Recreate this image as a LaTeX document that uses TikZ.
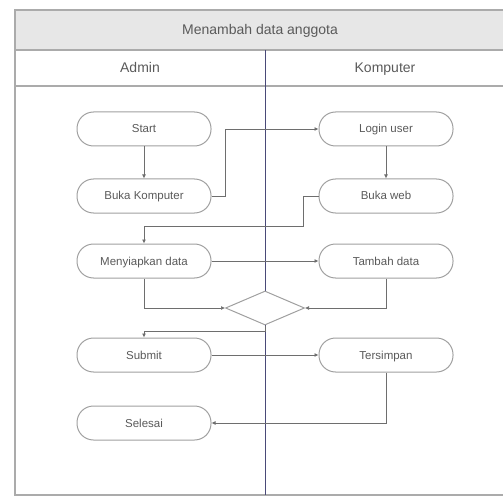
\documentclass[tikz,border=0pt]{standalone}
\usepackage{fontspec}
\setmainfont{Liberation Sans}
\usetikzlibrary{shapes.geometric,arrows.meta}
\definecolor{framegray}{HTML}{ABABAB}
\definecolor{titlefill}{HTML}{E7E7E7}
\definecolor{lanecol}{HTML}{4A4A78}
\definecolor{linecol}{HTML}{6E6E6E}
\definecolor{boxcol}{HTML}{A0A0A0}
\definecolor{txtcol}{HTML}{5A5A5A}
\tikzset{
  act/.style={draw=boxcol, line width=1pt, rounded corners=16.5pt, fill=white,
    minimum width=134pt, minimum height=34pt, inner sep=0pt,
    text height=10pt, text depth=2pt,
    font=\fontsize{11.5}{13}\selectfont, text=txtcol},
  decision/.style={draw=boxcol, line width=1pt, diamond, fill=white,
    minimum width=79pt, minimum height=34pt, inner sep=0pt},
  flow/.style={draw=linecol, line width=0.7pt, -{Latex[length=4pt,width=4pt]}},
  head/.style={font=\fontsize{14}{16}\selectfont, text=txtcol,
    text height=12pt, text depth=2pt}
}
\begin{document}
\begin{tikzpicture}[x=1pt,y=-1pt]
\useasboundingbox (0,0) rectangle (503,497);
% swimlane frame
\fill[titlefill] (15,10) rectangle (503,50);
\draw[framegray, line width=1.5pt] (503,10) -- (15,10) -- (15,495) -- (503,495);
\draw[framegray, line width=1.2pt] (15,50) -- (503,50);
\draw[framegray, line width=1.2pt] (15,86) -- (503,86);
\node[head] (title) at (260,30) {Menambah data anggota};
\node[head] (laneA) at (140,68) {Admin};
\node[head] (laneK) at (385,68) {Komputer};
% lane divider
\coordinate (divtop) at (265,50);
\coordinate (divbot) at (265,495);
\draw[lanecol, line width=1pt] (divtop) -- (divbot);
% activities
\node[act] (start) at (144,129) {Start};
\node[act] (bk) at (144,196) {Buka Komputer};
\node[act] (mn) at (144,261) {Menyiapkan data};
\node[act] (sub) at (144,355) {Submit};
\node[act] (sel) at (144,423) {Selesai};
\node[act] (login) at (386,129) {Login user};
\node[act] (bw) at (386,196) {Buka web};
\node[act] (tb) at (386,261) {Tambah data};
\node[act] (ts) at (386,355) {Tersimpan};
\node[decision] (dia) at (265,308) {};
% bend points
\coordinate (c1) at (225,196);
\coordinate (c2) at (303,196);
\coordinate (c3) at (303,226);
\coordinate (c4) at (265,331);
% connectors
\draw[flow] (start) -- (bk);
\draw[flow] (bk.east) -- (c1) |- (login.west);
\draw[flow] (login) -- (bw);
\draw[flow] (bw.west) -- (c2) -- (c3) -| (mn.north);
\draw[flow] (mn.east) -- (tb.west);
\draw[flow] (mn.south) |- (dia.west);
\draw[flow] (tb.south) |- (dia.east);
\draw[flow] (dia.south) -- (c4) -| (sub.north);
\draw[flow] (sub.east) -- (ts.west);
\draw[flow] (ts.south) |- (sel.east);
\end{tikzpicture}
\end{document}
